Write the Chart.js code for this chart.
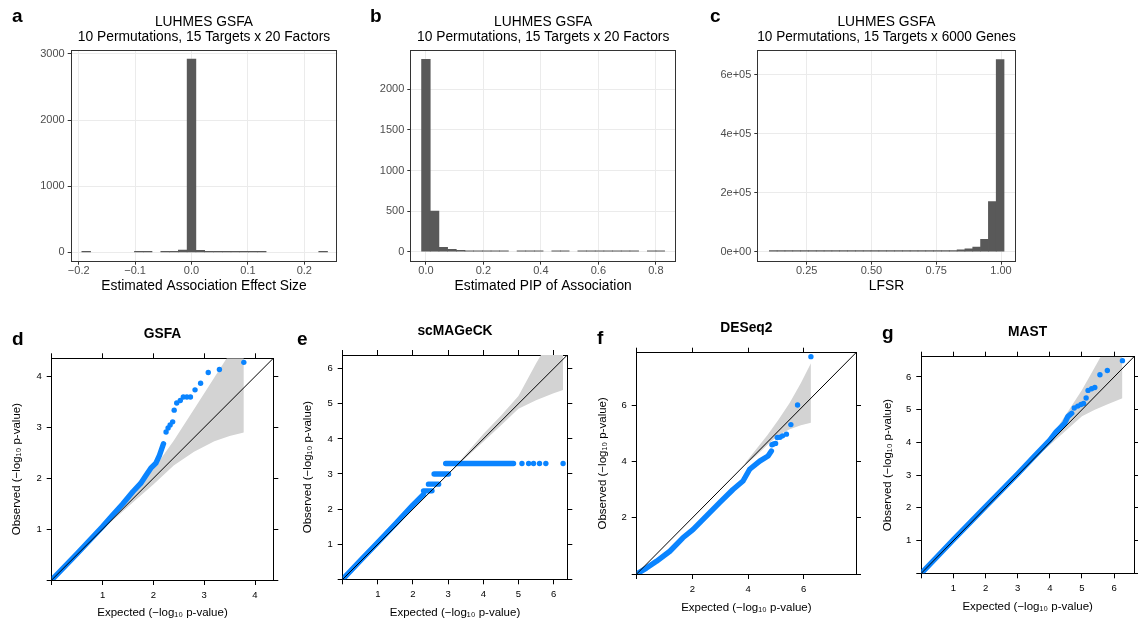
<!DOCTYPE html>
<html>
<head>
<meta charset="utf-8">
<title>LUHMES GSFA permutation checks</title>
<script src="https://cdn.jsdelivr.net/npm/chart.js"></script>
<style>
  html, body { margin: 0; padding: 0; background: #fff; }
  #page { position: relative; width: 1138px; height: 623px; overflow: hidden; background: #fff; }
  canvas { position: absolute; }
  .tag { position: absolute; font: bold 19px 'Liberation Sans', Arial, sans-serif; line-height: 19px; color: #000; }
</style>
</head>
<body>
<div id="page">
  <canvas id="histEffect"></canvas>
  <canvas id="histPip"></canvas>
  <canvas id="histLfsr"></canvas>
  <canvas id="qqGsfa"></canvas>
  <canvas id="qqScmageck"></canvas>
  <canvas id="qqDeseq"></canvas>
  <canvas id="qqMast"></canvas>
  <div class="tag" style="left:12px;top:6px">a</div>
  <div class="tag" style="left:370px;top:6px">b</div>
  <div class="tag" style="left:710px;top:6px">c</div>
  <div class="tag" style="left:12px;top:329px">d</div>
  <div class="tag" style="left:297px;top:329px">e</div>
  <div class="tag" style="left:597px;top:328px">f</div>
  <div class="tag" style="left:882px;top:323px">g</div>
</div>
<script>
// ---- a: estimated association effect size (histogram) ----
const effectBins = [-0.1867, -0.1712, -0.1556, -0.1400, -0.1245, -0.1089, -0.0934, -0.0778, -0.0622, -0.0467,
  -0.0311, -0.0156, 0, 0.0156, 0.0311, 0.0467, 0.0622, 0.0778, 0.0934, 0.1089,
  0.1245, 0.1400, 0.1556, 0.1712, 0.1867, 0.2023, 0.2178, 0.2334];
const effectCounts = [3, null, null, null, null, null, 4, 3, null, 5,
  12, 35, 2924, 30, 12, 4, 3, 3, 3, 3,
  3, null, null, null, null, null, null, 3];
const effectXTicks = [-0.2, -0.1, 0, 0.1, 0.2];
const effectXLabels = ['\u22120.2', '\u22120.1', '0.0', '0.1', '0.2'];
const effectYTicks = [0, 1000, 2000, 3000];
const effectYLabels = ['0', '1000', '2000', '3000'];

// ---- b: estimated PIP of association (histogram) ----
const pipBins = [0, 0.0302, 0.0604, 0.0906, 0.1208, 0.1510, 0.1812, 0.2114, 0.2416, 0.2718,
  0.3020, 0.3322, 0.3624, 0.3926, 0.4228, 0.4530, 0.4832, 0.5134, 0.5436, 0.5738,
  0.6040, 0.6342, 0.6644, 0.6946, 0.7248, 0.7550, 0.7852, 0.8154];
const pipCounts = [2370, 500, 55, 30, 18, 6, 5, 4, 4, 4,
  null, 4, 3, 3, null, 3, 3, null, 3, 3,
  3, 3, 3, 3, 3, null, 3, 3];
const pipXTicks = [0, 0.2, 0.4, 0.6, 0.8];
const pipXLabels = ['0.0', '0.2', '0.4', '0.6', '0.8'];
const pipYTicks = [0, 500, 1000, 1500, 2000];
const pipYLabels = ['0', '500', '1000', '1500', '2000'];

// ---- c: LFSR (histogram) ----
const lfsrBins = [0.1208, 0.1510, 0.1812, 0.2114, 0.2416, 0.2718, 0.3020, 0.3322, 0.3624, 0.3926,
  0.4228, 0.4530, 0.4832, 0.5134, 0.5436, 0.5738, 0.6040, 0.6342, 0.6644, 0.6946,
  0.7248, 0.7550, 0.7852, 0.8154, 0.8456, 0.8758, 0.9060, 0.9362, 0.9664, 0.9966];
const lfsrCounts = [300, 300, 300, 300, 300, 300, 1500, 1500, 1500, 1500,
  1500, 1500, 1500, 1500, 1500, 1500, 1500, 1500, 1500, 1500,
  1500, 1500, 1500, 2500, 6500, 10000, 16000, 42000, 169500, 651000];
const lfsrXTicks = [0.25, 0.5, 0.75, 1.0];
const lfsrXLabels = ['0.25', '0.50', '0.75', '1.00'];
const lfsrYTicks = [0, 200000, 400000, 600000];
const lfsrYLabels = ['0e+00', '2e+05', '4e+05', '6e+05'];

// ---- d: GSFA QQ ----
const gsfaTicks = [0, 1, 2, 3, 4];
const gsfaLabels = ['', '1', '2', '3', '4'];
const gsfaBandX = [0.8, 1.2, 1.6, 2.0, 2.4, 2.8, 3.2, 3.5, 3.78];
const gsfaBandHi = [0.8, 1.24, 1.68, 2.18, 2.74, 3.36, 3.98, 4.45, 4.95];
const gsfaBandLo = [0.8, 1.17, 1.53, 1.88, 2.25, 2.52, 2.73, 2.83, 2.9];
const gsfaDenseX = [0, 0.5, 1.0, 1.2, 1.4, 1.6, 1.75, 1.85, 1.95, 2.05, 2.12, 2.2];
const gsfaDenseY = [0, 0.52, 1.05, 1.28, 1.5, 1.74, 1.9, 2.05, 2.2, 2.3, 2.45, 2.68];
const gsfaTailX = [2.25, 2.29, 2.33, 2.38, 2.41, 2.46, 2.53, 2.59, 2.66, 2.73, 2.82, 2.93, 3.08, 3.30, 3.78];
const gsfaTailY = [2.91, 2.99, 3.05, 3.11, 3.34, 3.48, 3.53, 3.60, 3.60, 3.60, 3.74, 3.87, 4.08, 4.14, 4.28];

// ---- e: scMAGeCK QQ ----
const scTicks = [0, 1, 2, 3, 4, 5, 6];
const scLabels = ['', '1', '2', '3', '4', '5', '6'];
const scBandX = [3.0, 3.5, 4.0, 4.5, 5.0, 5.5, 6.0, 6.27];
const scBandHi = [3.0, 3.56, 4.14, 4.66, 5.22, 6.15, 7.0, 7.4];
const scBandLo = [3.0, 3.46, 3.92, 4.38, 4.86, 5.1, 5.3, 5.39];
const scDenseX = [0, 0.5, 1.0, 1.5, 2.0, 2.3, null, 2.30, 2.54, null, 2.44, 2.73, null, 2.60, 3.01, null, 2.93, 4.86];
const scDenseY = [0, 0.53, 1.05, 1.58, 2.12, 2.42, null, 2.52, 2.52, null, 2.71, 2.71, null, 3.0, 3.0, null, 3.30, 3.30];
const scTailX = [5.10, 5.29, 5.43, 5.60, 5.78, 6.27];
const scTailY = [3.30, 3.30, 3.30, 3.30, 3.30, 3.30];

// ---- f: DESeq2 QQ ----
const deTicks = [0, 2, 4, 6];
const deLabels = ['', '2', '4', '6'];
const deBandX = [3.9, 4.3, 4.7, 5.1, 5.5, 5.9, 6.26];
const deBandHi = [3.95, 4.45, 4.95, 5.5, 6.1, 6.8, 7.5];
const deBandLo = [3.88, 4.22, 4.6, 4.95, 5.15, 5.3, 5.39];
const deDenseX = [0, 0.35, 0.71, 1.19, 1.66, 2.02, 2.5, 2.98, 3.46, 3.82, 4.06, 4.42, 4.72, 4.84];
const deDenseY = [0, 0.21, 0.45, 0.81, 1.29, 1.58, 2.06, 2.54, 3.01, 3.31, 3.73, 4.02, 4.2, 4.38];
const deTailX = [4.86, 4.92, 4.99, 5.05, 5.15, 5.24, 5.38, 5.54, 5.78, 6.26];
const deTailY = [4.6, 4.63, 4.65, 4.86, 4.87, 4.92, 4.98, 5.32, 6.02, 7.74];

// ---- g: MAST QQ ----
const maTicks = [0, 1, 2, 3, 4, 5, 6];
const maLabels = ['', '1', '2', '3', '4', '5', '6'];
const maBandX = [3.8, 4.2, 4.6, 5.0, 5.4, 5.8, 6.26];
const maBandHi = [3.85, 4.4, 5.0, 5.6, 6.3, 7.0, 7.6];
const maBandLo = [3.75, 4.1, 4.45, 4.8, 5.0, 5.17, 5.35];
const maDenseX = [0, 1, 2, 3, 3.5, 4.0, 4.2, 4.36, 4.46, 4.56, 4.68];
const maDenseY = [0, 1.03, 2.04, 3.04, 3.56, 4.07, 4.33, 4.48, 4.58, 4.79, 4.89];
const maTailX = [4.76, 4.87, 4.97, 5.05, 5.13, 5.19, 5.30, 5.40, 5.56, 5.79, 6.26];
const maTailY = [5.05, 5.11, 5.16, 5.19, 5.36, 5.59, 5.64, 5.68, 6.07, 6.20, 6.50];

// y = x reference line
const identity = [0, 10];

const qqXTitle = 'Expected (\u2212log\u2081\u2080 p-value)';
const qqYTitle = 'Observed (\u2212log\u2081\u2080 p-value)';
const BLUE = '#0a84ff';

Chart.defaults.font.family = "'Liberation Sans', Arial, Helvetica, sans-serif";
Chart.defaults.animation = false;
Chart.defaults.plugins.legend.display = false;
Chart.defaults.plugins.tooltip.enabled = false;

// ggplot-style panel border
const panelBorder = {
  id: 'panelBorder',
  afterDatasetsDraw(chart) {
    const { ctx, chartArea: a } = chart;
    ctx.save();
    ctx.strokeStyle = '#333333';
    ctx.lineWidth = 1;
    const l = Math.round(a.left) + 0.5, t = Math.round(a.top) + 0.5;
    const r = Math.round(a.right) - 0.5, b = Math.round(a.bottom) - 0.5;
    ctx.strokeRect(l, t, r - l, b - t);
    ctx.restore();
  }
};

function mountCanvas(id, box) {
  const cv = document.getElementById(id);
  cv.width = box[2];
  cv.height = box[3];
  cv.style.left = box[0] + 'px';
  cv.style.top = box[1] + 'px';
  return cv;
}

function setTicks(values) {
  return s => { s.ticks = values.map(v => ({ value: v })); };
}

function pts(xs, ys) {
  return xs.map((x, i) => ({ x: x, y: ys[i] }));
}

// top row: ggplot histograms
function histogram(id, box, plot, spec) {
  const cv = mountCanvas(id, box);
  const W = box[2], H = box[3];
  const L = plot[0] - box[0], T = plot[1] - box[1], R = plot[2] - box[0], B = plot[3] - box[1];
  const lineH = 14.4;
  const titleTop = 22.3 - box[1] - lineH / 2;
  const xTitleY = 286 - box[1];
  const data = spec.bins.map((x, i) => ({ x: x, y: spec.counts[i] })).filter(p => p.y !== null);

  return new Chart(cv, {
    type: 'bar',
    data: {
      datasets: [{
        data: data,
        backgroundColor: '#595959',
        borderWidth: 0,
        barPercentage: 1,
        categoryPercentage: 1,
        minBarLength: 1
      }]
    },
    options: {
      responsive: false,
      devicePixelRatio: 1,
      layout: { padding: { left: 0, right: W - R, top: 0, bottom: 0 } },
      plugins: {
        title: {
          display: true,
          text: spec.title,
          fullSize: false,
          color: '#000',
          font: { size: 13.8, weight: 'normal', lineHeight: lineH / 13.8 },
          padding: { top: titleTop, bottom: T - titleTop - 2 * lineH }
        }
      },
      scales: {
        x: {
          type: 'linear',
          min: spec.xMin,
          max: spec.xMax,
          offset: false,
          afterBuildTicks: setTicks(spec.xTicks),
          afterFit: s => { s.height = H - B; },
          ticks: {
            autoSkip: false, maxRotation: 0, padding: 0, color: '#4D4D4D',
            font: { size: 11 },
            callback: (v, i) => spec.xLabels[i]
          },
          grid: { color: '#EBEBEB', tickColor: '#333333', tickLength: 3, offset: false },
          border: { display: false },
          title: {
            display: true, text: spec.xTitle, color: '#000',
            font: { size: 13.8 },
            padding: { top: 0, bottom: H - xTitleY - 8.28 }
          }
        },
        y: {
          type: 'linear',
          min: spec.yMin,
          max: spec.yMax,
          afterBuildTicks: setTicks(spec.yTicks),
          afterFit: s => { s.width = L; },
          ticks: {
            autoSkip: false, padding: 3, color: '#4D4D4D',
            font: { size: 11 },
            callback: (v, i) => spec.yLabels[i]
          },
          grid: { color: '#EBEBEB', tickColor: '#333333', tickLength: 3 },
          border: { display: false }
        }
      }
    },
    plugins: [panelBorder]
  });
}

// bottom row: lattice-style QQ plots
function qqPlot(id, box, plot, spec) {
  const cv = mountCanvas(id, box);
  const W = box[2], H = box[3];
  const L = plot[0] - box[0], T = plot[1] - box[1], R = plot[2] - box[0], B = plot[3] - box[1];
  const titleH = 13.8 * 1.2;
  const titleTop = spec.titleY - box[1] - titleH / 2;
  const axisH = 11.5 * 1.2;

  const axisGrid = { drawOnChartArea: false, color: '#000', tickLength: 5, lineWidth: 1 };
  const axisBorder = { display: true, color: '#000', width: 1 };
  const tickFont = { size: 9.5 };

  return new Chart(cv, {
    type: 'line',
    data: {
      datasets: [
        {
          data: pts(spec.bandX, spec.bandHi), fill: '+1', backgroundColor: '#D3D3D3',
          borderColor: 'rgba(0,0,0,0)', borderWidth: 0, pointRadius: 0, order: 3
        },
        {
          data: pts(spec.bandX, spec.bandLo), fill: false,
          borderColor: 'rgba(0,0,0,0)', borderWidth: 0, pointRadius: 0, order: 4
        },
        {
          data: pts(spec.denseX, spec.denseY), borderColor: BLUE, borderWidth: 5.4,
          borderCapStyle: 'round', borderJoinStyle: 'round', spanGaps: false,
          pointRadius: 0, fill: false, order: 2
        },
        {
          data: pts(spec.tailX, spec.tailY), showLine: false, pointRadius: 2.7,
          pointBackgroundColor: BLUE, pointBorderWidth: 0, order: 1
        },
        {
          data: pts(identity, identity), borderColor: '#000', borderWidth: 1,
          pointRadius: 0, fill: false, order: 0
        }
      ]
    },
    options: {
      responsive: false,
      devicePixelRatio: 1,
      layout: { padding: 0 },
      plugins: {
        title: {
          display: true,
          text: spec.title,
          fullSize: false,
          color: '#000',
          font: { size: 13.8, weight: 'bold', lineHeight: 1.2 },
          padding: { top: titleTop, bottom: T - 5 - titleTop - titleH }
        }
      },
      scales: {
        x: {
          type: 'linear', position: 'bottom', min: 0, max: spec.max,
          afterBuildTicks: setTicks(spec.ticks),
          afterFit: s => { s.height = H - B; },
          ticks: {
            autoSkip: false, maxRotation: 0, padding: 4.6, color: '#000', font: tickFont,
            callback: (v, i) => spec.labels[i]
          },
          grid: axisGrid,
          border: axisBorder,
          title: {
            display: true, text: qqXTitle, color: '#000', font: { size: 11.5 },
            padding: { top: 0, bottom: H - (spec.xTitleY - box[1]) - axisH / 2 }
          }
        },
        x2: {
          type: 'linear', position: 'top', min: 0, max: spec.max,
          afterBuildTicks: setTicks(spec.ticks),
          afterFit: s => { s.height = 5; },
          ticks: { display: false },
          grid: axisGrid,
          border: axisBorder
        },
        y: {
          type: 'linear', position: 'left', min: 0, max: spec.max,
          afterBuildTicks: setTicks(spec.ticks),
          afterFit: s => { s.width = L; },
          ticks: {
            autoSkip: false, padding: 5, color: '#000', font: tickFont,
            callback: (v, i) => spec.labels[i]
          },
          grid: axisGrid,
          border: axisBorder,
          title: {
            display: true, text: qqYTitle, color: '#000', font: { size: 11.5 },
            padding: { top: (spec.yTitleX - box[0]) - axisH / 2, bottom: 0 }
          }
        },
        y2: {
          type: 'linear', position: 'right', min: 0, max: spec.max,
          afterBuildTicks: setTicks(spec.ticks),
          afterFit: s => { s.width = W - R; },
          ticks: { display: false },
          grid: axisGrid,
          border: axisBorder
        }
      }
    }
  });
}

document.addEventListener('DOMContentLoaded', function() {
  histogram('histEffect', [0, 0, 350, 300], [70.7, 50, 337.3, 261.7], {
    title: ['LUHMES GSFA', '10 Permutations, 15 Targets x 20 Factors'],
    xTitle: 'Estimated Association Effect Size',
    bins: effectBins, counts: effectCounts,
    xMin: -0.2142, xMax: 0.2585, yMin: -142, yMax: 3060,
    xTicks: effectXTicks, xLabels: effectXLabels, yTicks: effectYTicks, yLabels: effectYLabels
  });

  histogram('histPip', [350, 0, 340, 300], [410.3, 50, 676, 261.7], {
    title: ['LUHMES GSFA', '10 Permutations, 15 Targets x 20 Factors'],
    xTitle: 'Estimated PIP of Association',
    bins: pipBins, counts: pipCounts,
    xMin: -0.0543, xMax: 0.870, yMin: -123, yMax: 2484,
    xTicks: pipXTicks, xLabels: pipXLabels, yTicks: pipYTicks, yLabels: pipYLabels
  });

  histogram('histLfsr', [695, 0, 340, 300], [757.3, 50, 1015.7, 261.7], {
    title: ['LUHMES GSFA', '10 Permutations, 15 Targets x 6000 Genes'],
    xTitle: 'LFSR',
    bins: lfsrBins, counts: lfsrCounts,
    xMin: 0.0594, xMax: 1.0567, yMin: -33900, yMax: 683700,
    xTicks: lfsrXTicks, xLabels: lfsrXLabels, yTicks: lfsrYTicks, yLabels: lfsrYLabels
  });

  qqPlot('qqGsfa', [0, 300, 290, 323], [51.7, 358.3, 273.3, 580], {
    title: 'GSFA', titleY: 334.3, xTitleY: 613.3, yTitleX: 17.3,
    max: 4.36, ticks: gsfaTicks, labels: gsfaLabels,
    bandX: gsfaBandX, bandHi: gsfaBandHi, bandLo: gsfaBandLo,
    denseX: gsfaDenseX, denseY: gsfaDenseY, tailX: gsfaTailX, tailY: gsfaTailY
  });

  qqPlot('qqScmageck', [290, 300, 290, 323], [342.7, 355, 567.3, 579.3], {
    title: 'scMAGeCK', titleY: 331, xTitleY: 613.3, yTitleX: 308.3,
    max: 6.39, ticks: scTicks, labels: scLabels,
    bandX: scBandX, bandHi: scBandHi, bandLo: scBandLo,
    denseX: scDenseX, denseY: scDenseY, tailX: scTailX, tailY: scTailY
  });

  qqPlot('qqDeseq', [580, 300, 285, 323], [636.7, 352.7, 856, 574], {
    title: 'DESeq2', titleY: 328.3, xTitleY: 608.3, yTitleX: 603.3,
    max: 7.88, ticks: deTicks, labels: deLabels,
    bandX: deBandX, bandHi: deBandHi, bandLo: deBandLo,
    denseX: deDenseX, denseY: deDenseY, tailX: deTailX, tailY: deTailY
  });

  qqPlot('qqMast', [865, 300, 273, 323], [921.3, 356.7, 1137.3, 573.3], {
    title: 'MAST', titleY: 331.7, xTitleY: 606.7, yTitleX: 888.3,
    max: 6.62, ticks: maTicks, labels: maLabels,
    bandX: maBandX, bandHi: maBandHi, bandLo: maBandLo,
    denseX: maDenseX, denseY: maDenseY, tailX: maTailX, tailY: maTailY
  });
});
</script>
</body>
</html>
